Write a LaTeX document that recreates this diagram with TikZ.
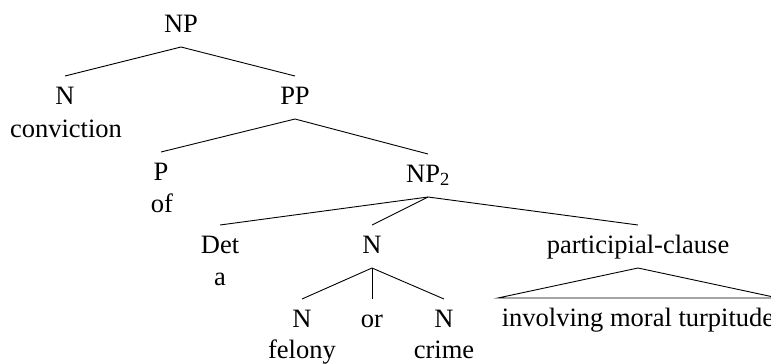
\documentclass[tikz,border=0pt]{standalone}
\usepackage{fontspec}
\setmainfont{Liberation Serif}
\begin{document}
\begin{tikzpicture}[x=1pt,y=-1pt,
  lab/.style={anchor=base,inner xsep=4pt,inner ysep=9pt,outer sep=0pt,
    text height=19pt,text depth=6pt,font=\fontsize{26.5}{30}\selectfont},
  word/.style={anchor=base,inner sep=0pt,font=\fontsize{26.5}{30}\selectfont},
  edge/.style={line width=0.9pt}]
\useasboundingbox (0,0) rectangle (771,364);
\clip (0,0) rectangle (771,364);
% nodes
\node[lab] (np)  at (181,32)  {NP};
\node[lab] (n1)  at (65,104)  {N};
\node[word] (w1) at (66,137)  {conviction};
\node[lab] (pp)  at (295,104) {PP};
\node[lab] (p)   at (161,180) {P};
\node[word] (w2) at (162,212) {of};
\node[lab] (np2) at (428,182) {NP\textsubscript{2}};
\node[lab] (det) at (220,253) {Det};
\node[word] (w3) at (220,285) {a};
\node[lab] (n2)  at (372,253) {N};
\node[lab] (pc)  at (638,253) {participial-clause};
\node[lab] (n3)  at (302,327) {N};
\node[word] (w4) at (302,358) {felony};
\node[lab] (or)  at (372,327) {or};
\node[lab] (n4)  at (444,327) {N};
\node[word] (w5) at (444,358) {crime};
\node[lab] (ph)  at (638,326) {involving moral turpitude};
% edges
\draw[edge] (n1.north) -- (np.south) -- (pp.north);
\draw[edge] (p.north) -- (pp.south) -- (np2.north);
\draw[edge] (det.north) -- (np2.south) -- (pc.north);
\draw[edge] (np2.south) -- (n2.north);
\draw[edge] (n3.north) -- (n2.south) -- (n4.north);
\draw[edge] (n2.south) -- (or.north);
\draw[edge] (pc.south) -- (ph.north west) -- (ph.north east) -- cycle;
\end{tikzpicture}
\end{document}
